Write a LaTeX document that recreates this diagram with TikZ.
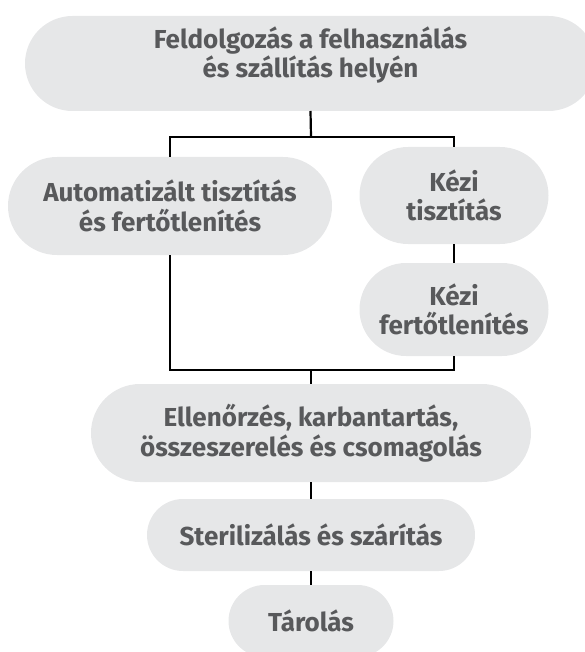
\documentclass[tikz,border=0pt]{standalone}
\usepackage{fontspec}
\setmainfont{Fira Sans}
\usetikzlibrary{shapes.misc}
\definecolor{boxfill}{HTML}{E6E7E8}
\definecolor{boxtext}{HTML}{58595B}
\tikzset{
  pill/.style={rounded rectangle, fill=boxfill, text=boxtext, inner sep=0pt, outer sep=0pt,
    align=center, font=\fontsize{26}{29.5}\selectfont\bfseries},
  conn/.style={draw=black, line width=2.2pt}
}
\begin{document}
\begin{tikzpicture}[x=1pt,y=-1pt]
\useasboundingbox (0,0) rectangle (585,652);
\clip (0,0) rectangle (585,652);
\node[pill, minimum width=571pt, minimum height=95pt, font=\fontsize{26}{27}\selectfont\bfseries] (top) at (310.5,63.5) {Feldolgozás a felhasználás\\és szállítás helyén\\[-4pt]\mbox{}};
\node[pill, minimum width=324pt, minimum height=98pt] (auto) at (170,206) {Automatizált tisztítás\\és fertőtlenítés};
\node[pill, minimum width=189pt, minimum height=97pt] (kezi1) at (454,195.5) {Kézi\\tisztítás};
\node[pill, minimum width=189pt, minimum height=93pt] (kezi2) at (454,309.5) {Kézi\\fertőtlenítés};
\node[pill, minimum width=440pt, minimum height=98pt] (ell) at (311,433) {Ellenőrzés, karbantartás,\\összeszerelés és csomagolás};
\node[pill, minimum width=328pt, minimum height=72pt] (steril) at (311,535) {Sterilizálás és szárítás};
\node[pill, minimum width=165pt, minimum height=72pt] (tarol) at (311,621) {Tárolás};
\coordinate (jt) at (311,137);
\coordinate (jb) at (311,370);
\draw[conn] (top.south) -- (jt);
\draw[conn] (auto.north) |- (jt) -| (kezi1.north);
\draw[conn] (kezi1.south) -- (kezi2.north);
\draw[conn] (auto.south) |- (jb) -| (kezi2.south);
\draw[conn] (jb) -- (ell.north);
\draw[conn] (ell.south) -- (steril.north);
\draw[conn] (steril.south) -- (tarol.north);
\end{tikzpicture}
\end{document}
